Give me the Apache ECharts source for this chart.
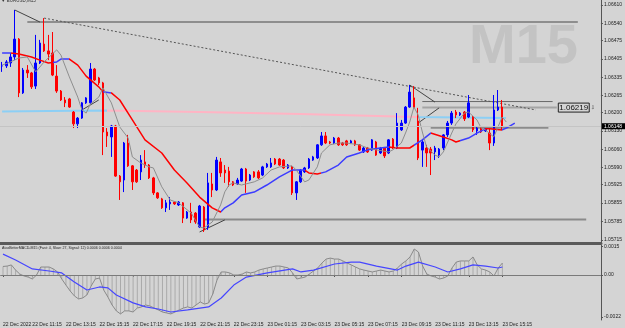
<!DOCTYPE html>
<html>
<head>
<meta charset="utf-8">
<title>EURUSD M15</title>
<script src="https://cdn.jsdelivr.net/npm/echarts/dist/echarts.min.js"></script>
<style>
  html, body { margin: 0; padding: 0; background: #d4d4d4; }
  #chart { width: 625px; height: 328px; }
</style>
</head>
<body>
<div id="chart"></div>
<script>
  // candles: [open, close, low, high]
  const candles = [
    [1.06378, 1.06378, 1.06355, 1.06393], [1.06378, 1.06393, 1.06370, 1.06400], [1.06389, 1.06412, 1.06374, 1.06427],
    [1.06412, 1.06480, 1.06400, 1.06591], [1.06480, 1.06275, 1.06259, 1.06484], [1.06275, 1.06362, 1.06271, 1.06370],
    [1.06362, 1.06351, 1.06332, 1.06381], [1.06351, 1.06298, 1.06290, 1.06355], [1.06301, 1.06389, 1.06290, 1.06496],
    [1.06389, 1.06465, 1.06385, 1.06477], [1.06461, 1.06435, 1.06431, 1.06560], [1.06435, 1.06423, 1.06400, 1.06496],
    [1.06427, 1.06343, 1.06339, 1.06507], [1.06339, 1.06282, 1.06275, 1.06381], [1.06282, 1.06248, 1.06244, 1.06286],
    [1.06248, 1.06237, 1.06221, 1.06259], [1.06252, 1.06221, 1.06218, 1.06256], [1.06202, 1.06157, 1.06141, 1.06206],
    [1.06157, 1.06179, 1.06141, 1.06183], [1.06179, 1.06237, 1.06176, 1.06240], [1.06237, 1.06256, 1.06233, 1.06259],
    [1.06237, 1.06366, 1.06233, 1.06389], [1.06366, 1.06324, 1.06320, 1.06370], [1.06332, 1.06313, 1.06305, 1.06336],
    [1.06313, 1.06126, 1.06038, 1.06317], [1.06126, 1.06111, 1.06069, 1.06141], [1.06107, 1.06149, 1.06031, 1.06153],
    [1.06149, 1.05958, 1.05955, 1.06153], [1.05958, 1.05936, 1.05867, 1.05962], [1.05943, 1.06084, 1.05897, 1.06088],
    [1.06084, 1.05997, 1.05993, 1.06115], [1.05997, 1.05936, 1.05905, 1.06000], [1.05981, 1.05936, 1.05932, 1.05985],
    [1.05974, 1.06019, 1.05943, 1.06038], [1.06012, 1.06000, 1.05989, 1.06057], [1.06000, 1.05951, 1.05947, 1.06004],
    [1.05951, 1.05894, 1.05886, 1.05955], [1.05894, 1.05875, 1.05871, 1.05897], [1.05871, 1.05837, 1.05833, 1.05875],
    [1.05837, 1.05856, 1.05821, 1.05867], [1.05852, 1.05859, 1.05829, 1.05878], [1.05859, 1.05852, 1.05848, 1.05863],
    [1.05848, 1.05859, 1.05844, 1.05863], [1.05856, 1.05798, 1.05779, 1.05859], [1.05798, 1.05821, 1.05795, 1.05825],
    [1.05821, 1.05791, 1.05779, 1.05856], [1.05817, 1.05783, 1.05776, 1.05821], [1.05764, 1.05844, 1.05760, 1.05848],
    [1.05840, 1.05753, 1.05745, 1.05844], [1.05764, 1.05932, 1.05753, 1.05970], [1.05928, 1.05905, 1.05878, 1.05970],
    [1.05905, 1.06019, 1.05901, 1.06031], [1.06012, 1.05970, 1.05955, 1.06027], [1.05981, 1.05970, 1.05932, 1.06000],
    [1.05977, 1.05936, 1.05917, 1.05993], [1.05936, 1.05924, 1.05920, 1.05939], [1.05928, 1.05943, 1.05924, 1.05951],
    [1.05939, 1.05985, 1.05936, 1.05989], [1.05985, 1.05939, 1.05894, 1.05989], [1.05943, 1.05962, 1.05939, 1.05966],
    [1.05974, 1.05955, 1.05951, 1.05977], [1.05974, 1.05951, 1.05947, 1.05981], [1.05962, 1.05993, 1.05958, 1.05997],
    [1.05993, 1.06004, 1.05989, 1.06008], [1.05993, 1.06008, 1.05989, 1.06027], [1.06023, 1.06004, 1.06000, 1.06027],
    [1.06023, 1.06000, 1.05997, 1.06027], [1.06019, 1.05989, 1.05985, 1.06023], [1.05989, 1.06000, 1.05985, 1.06004],
    [1.05993, 1.05894, 1.05886, 1.05997], [1.05894, 1.05936, 1.05867, 1.05939], [1.05936, 1.05981, 1.05932, 1.05985],
    [1.05974, 1.05989, 1.05970, 1.05993], [1.05989, 1.06023, 1.05985, 1.06027], [1.06019, 1.06031, 1.06016, 1.06035],
    [1.06027, 1.06077, 1.06023, 1.06080], [1.06077, 1.06111, 1.06073, 1.06126], [1.06111, 1.06084, 1.06080, 1.06126],
    [1.06088, 1.06084, 1.06080, 1.06092], [1.06084, 1.06103, 1.06080, 1.06107], [1.06103, 1.06077, 1.06073, 1.06107],
    [1.06084, 1.06077, 1.06073, 1.06088], [1.06092, 1.06077, 1.06073, 1.06096], [1.06084, 1.06092, 1.06080, 1.06096],
    [1.06092, 1.06077, 1.06073, 1.06096], [1.06077, 1.06057, 1.06054, 1.06080], [1.06050, 1.06065, 1.06046, 1.06069],
    [1.06065, 1.06050, 1.06046, 1.06069], [1.06057, 1.06096, 1.06054, 1.06099], [1.06088, 1.06038, 1.06035, 1.06092],
    [1.06046, 1.06065, 1.06042, 1.06069], [1.06065, 1.06035, 1.06027, 1.06069], [1.06046, 1.06096, 1.06042, 1.06099],
    [1.06099, 1.06065, 1.06061, 1.06103], [1.06065, 1.06160, 1.06061, 1.06198], [1.06134, 1.06160, 1.06130, 1.06172],
    [1.06160, 1.06221, 1.06157, 1.06225], [1.06221, 1.06278, 1.06218, 1.06305], [1.06256, 1.06218, 1.06214, 1.06301],
    [1.06168, 1.06027, 1.06019, 1.06218], [1.06057, 1.06088, 1.05993, 1.06096], [1.06065, 1.06046, 1.05993, 1.06077],
    [1.06061, 1.06046, 1.05962, 1.06069], [1.06050, 1.06065, 1.06019, 1.06073], [1.06038, 1.06061, 1.06027, 1.06065],
    [1.06065, 1.06115, 1.06057, 1.06118], [1.06115, 1.06160, 1.06107, 1.06168], [1.06160, 1.06198, 1.06153, 1.06206],
    [1.06202, 1.06191, 1.06179, 1.06210], [1.06191, 1.06198, 1.06187, 1.06202], [1.06202, 1.06176, 1.06168, 1.06206],
    [1.06183, 1.06237, 1.06179, 1.06267], [1.06183, 1.06134, 1.06126, 1.06187], [1.06130, 1.06141, 1.06115, 1.06145],
    [1.06141, 1.06126, 1.06122, 1.06145], [1.06130, 1.06138, 1.06126, 1.06141], [1.06122, 1.06084, 1.06057, 1.06141],
    [1.06084, 1.06210, 1.06073, 1.06267], [1.06210, 1.06221, 1.06206, 1.06286], [1.06221, 1.06148, 1.06134, 1.06248]
  ]

  // moving averages, [bar, price]
  const slowMa = [
    [0, 1.06427], [2, 1.06427], [4, 1.06423], [7, 1.06412], [9, 1.06400], [11, 1.06389], [13, 1.06393], [14, 1.06404],
    [16, 1.06404], [18, 1.06381], [20, 1.06339], [23, 1.06298], [24, 1.06279], [26, 1.06275], [28, 1.06248], [31, 1.06172],
    [34, 1.06096], [38, 1.06046], [41, 1.05981], [44, 1.05932], [47, 1.05878], [50, 1.05837], [52, 1.05821], [53, 1.05837],
    [55, 1.05856], [57, 1.05886], [60, 1.05897], [63, 1.05924], [66, 1.05955], [69, 1.05981], [72, 1.05981], [73, 1.05970],
    [75, 1.05966], [77, 1.05974], [80, 1.06000], [82, 1.06031], [85, 1.06046], [87, 1.06058], [90, 1.06065], [92, 1.06069],
    [94, 1.06065], [97, 1.06065], [100, 1.06096], [102, 1.06122], [105, 1.06107], [107, 1.06096], [108, 1.06088],
    [111, 1.06103], [113, 1.06122], [115, 1.06138], [116, 1.06138], [119, 1.06134], [120, 1.06141], [122, 1.06160]
  ]
  const slowMaRising = [[0, 2], [12, 16], [24, 26], [52, 72], [76, 92], [98, 102], [109, 115], [119, 122]]

  const longMa = [[0, 1.06204], [11, 1.06206], [25, 1.06208], [47, 1.06202], [71, 1.06195], [94, 1.06185], [99, 1.06183], [109, 1.06181], [120, 1.06179]]
  const longMaRising = [[0, 25], [99, 120]]

  const fastMa = [
    [0, 1.06381], [2, 1.06393], [4, 1.06408], [6, 1.06412], [8, 1.06355], [10, 1.06393], [13, 1.06439], [14, 1.06419],
    [16, 1.06336], [18, 1.06259], [19, 1.06210], [20, 1.06198], [21, 1.06233], [23, 1.06259], [24, 1.06294], [26, 1.06237],
    [28, 1.06145], [30, 1.06103], [31, 1.06031], [33, 1.06008], [35, 1.05993], [36, 1.05989], [38, 1.05917], [40, 1.05867],
    [42, 1.05856], [45, 1.05817], [47, 1.05764], [48, 1.05760], [50, 1.05783], [52, 1.05848], [53, 1.05898], [54, 1.05924],
    [55, 1.05932], [57, 1.05924], [60, 1.05936], [62, 1.05951], [64, 1.05981], [66, 1.05993], [69, 1.05997], [70, 1.05981],
    [72, 1.05936], [73, 1.05943], [75, 1.05993], [76, 1.06046], [78, 1.06077], [80, 1.06084], [82, 1.06084], [85, 1.06077],
    [87, 1.06065], [89, 1.06058], [92, 1.06050], [93, 1.06058], [95, 1.06084], [96, 1.06122], [97, 1.06164], [98, 1.06221],
    [99, 1.06191], [100, 1.06126], [101, 1.06069], [103, 1.06038], [104, 1.06031], [105, 1.06050], [107, 1.06122],
    [108, 1.06157], [110, 1.06198], [111, 1.06202], [113, 1.06172], [114, 1.06141], [115, 1.06134], [117, 1.06107],
    [118, 1.06145], [119, 1.06183], [120, 1.06164]
  ]

  // chart objects drawn by hand on the terminal, [bar, price]
  const levelTop = [[6, 1.06545], [137, 1.06545]]
  const levelBottom = [[48, 1.05793], [139, 1.05793]]
  const levelHigh = [[100, 1.06242], [131, 1.06242]]
  const levelMarked = [[100, 1.06219], [132, 1.06219]]
  const levelLow = [[102, 1.06143], [130, 1.06143]]
  const trendDotted = [[10, 1.06560], [127, 1.06210]]
  const zigzags = [
    [[3, 1.06591], [9, 1.06545]],
    [[19, 1.06210], [23, 1.06248]],
    [[47, 1.05745], [53, 1.05791]],
    [[97, 1.06305], [103, 1.06240]],
    [[99, 1.06160], [104, 1.06218]]
  ]
  const bidPrice = 1.06148

  // MACD window
  const macdValues = [
    0.00045, 0.00047, 0.00053, 0.00026, 0.00005, -0.00005, -0.00011, -0.00021, 0, 0.00042,
    0.00042, 0.00042, 0.00032, 0.00016, -0.00021, -0.00053, -0.00084, -0.00110, -0.00126, -0.00121,
    -0.00105, -0.00058, -0.00021, -0.00016, -0.00079, -0.00116, -0.00158, -0.00189, -0.00205, -0.00189,
    -0.00189, -0.00195, -0.00174, -0.00168, -0.00158, -0.00163, -0.00174, -0.00184, -0.00195, -0.00200,
    -0.00205, -0.00195, -0.00184, -0.00174, -0.00168, -0.00174, -0.00158, -0.00142, -0.00153, -0.00147,
    -0.00100, -0.00026, 0.00016, 0.00016, 0.00011, 0, 0, 0.00005, 0.00016, 0.00011,
    0.00016, 0.00026, 0.00032, 0.00037, 0.00042, 0.00047, 0.00047, 0.00042, 0.00037, 0.00011,
    -0.00021, -0.00016, -0.00011, 0.00005, 0.00021, 0.00037, 0.00063, 0.00084, 0.00089, 0.00084,
    0.00084, 0.00074, 0.00063, 0.00053, 0.00042, 0.00032, 0.00026, 0.00021, 0.00016, 0.00021,
    0.00026, 0.00021, 0.00016, 0.00021, 0.00037, 0.00058, 0.00074, 0.00095, 0.00137, 0.00121,
    0.00047, 0.00005, -0.00005, -0.00011, -0.00021, -0.00016, -0.00005, 0.00037, 0.00068, 0.00074,
    0.00074, 0.00074, 0.00095, 0.00053, 0.00032, 0.00026, 0.00016, -0.00005, 0.00037, 0.00063
  ]
  const macdSignal = [
    [0, 0.00110], [3, 0.00079], [7, 0.00032], [11, 0.00021], [14, 0.00011], [17, -0.00037], [20, -0.00079], [23, -0.00063],
    [25, -0.00068], [27, -0.00105], [31, -0.00147], [34, -0.00168], [37, -0.00179], [40, -0.00195], [44, -0.00184],
    [49, -0.00168], [52, -0.00121], [55, -0.00053], [58, -0.00011], [63, 0.00011], [69, 0.00032], [71, 0.00016],
    [74, 0.00026], [79, 0.00058], [83, 0.00068], [85, 0.00068], [89, 0.00047], [94, 0.00026], [96, 0.00047],
    [99, 0.00068], [103, 0.00042], [106, 0.00016], [109, 0.00032], [112, 0.00053], [115, 0.00047], [118, 0.00037], [119, 0.00042]
  ]

  const priceTicks = [1.06610, 1.06540, 1.06475, 1.06405, 1.06335, 1.06265, 1.06200, 1.06130, 1.06060, 1.05990, 1.05925, 1.05855, 1.05785, 1.05715]
  const macdTicks = [0.0015, 0, -0.0022]
  const timeLabelBars = [0, 7, 15, 23, 31, 39, 47, 55, 63, 71, 79, 87, 95, 103, 111, 119]
  const timeLabels = ['22 Dec 2022', '22 Dec 11:15', '22 Dec 13:15', '22 Dec 15:15', '22 Dec 17:15', '22 Dec 19:15',
    '22 Dec 21:15', '22 Dec 23:15', '23 Dec 01:15', '23 Dec 03:15', '23 Dec 05:15', '23 Dec 07:15',
    '23 Dec 09:15', '23 Dec 11:15', '23 Dec 13:15', '23 Dec 15:15']

  const FONT = '"Liberation Sans", Arial, sans-serif'
  const SLOTS = 143 // bars plus empty shift on the right

  // bar times, 15 minutes apart
  const categories = []
  const t0 = Date.UTC(2022, 11, 22, 9, 30)
  for (let i = 0; i < SLOTS; i++) {
    const d = new Date(t0 + i * 15 * 60000)
    categories.push(d.getUTCDate() + ' Dec ' + String(d.getUTCHours()).padStart(2, '0') + ':' + String(d.getUTCMinutes()).padStart(2, '0'))
  }
  const showTime = (i) => timeLabelBars.indexOf(i) !== -1

  function objectLine(data, color, width, type) {
    return {
      type: 'line', xAxisIndex: 0, yAxisIndex: 0, data: data, symbol: 'none', silent: true, z: 1,
      lineStyle: { color: color, width: width, type: type || 'solid' }
    }
  }

  const markedLine = objectLine(levelMarked, '#a4a4a4', 2)
  // price box at the right end of the marked level
  markedLine.markPoint = {
    silent: true, animation: false, symbol: 'rect', symbolSize: 1,
    itemStyle: { color: 'transparent' },
    data: [{
      coord: levelMarked[1],
      label: {
        show: true, position: 'right', distance: 1, opacity: 1,
        formatter: '{b|' + levelMarked[1][1].toFixed(5) + '}{a| ⇩}',
        rich: {
          b: { fontSize: 8, color: '#111', borderColor: '#222', borderWidth: 1, padding: [1, 1, 0, 1] },
          a: { fontSize: 5, color: '#444', fontFamily: 'DejaVu Sans' }
        }
      }
    }]
  }

  const chart = echarts.init(document.getElementById('chart'))
  chart.setOption({
    animation: false,
    backgroundColor: '#d4d4d4',
    textStyle: { fontFamily: FONT },
    grid: [
      { left: 0, right: 24, top: 0, height: 243 },
      { left: 0, right: 24, top: 245, height: 75 }
    ],
    xAxis: [
      {
        type: 'category', gridIndex: 0, data: categories, boundaryGap: true,
        axisLine: { show: true, lineStyle: { color: '#5a5a5a', width: 3 } },
        axisTick: { show: false }, axisLabel: { show: false }, splitLine: { show: false }
      },
      {
        type: 'category', gridIndex: 1, data: categories, boundaryGap: true,
        axisLine: { show: true, lineStyle: { color: '#555', width: 1 } },
        axisTick: { show: true, interval: showTime, alignWithLabel: true, length: 2, lineStyle: { color: '#555' } },
        axisLabel: {
          interval: showTime,
          formatter: (v, i) => timeLabels[timeLabelBars.indexOf(i)],
          align: 'left', fontSize: 5, color: '#222', margin: 2
        },
        splitLine: { show: false }
      }
    ],
    yAxis: [
      {
        type: 'value', gridIndex: 0, position: 'right', min: 1.05703, max: 1.06629,
        splitLine: { show: false },
        axisLine: { show: true, lineStyle: { color: '#555' } },
        axisTick: { show: true, customValues: priceTicks, length: 2, lineStyle: { color: '#555' } },
        axisLabel: { customValues: priceTicks, formatter: (v) => v.toFixed(5), fontSize: 5, color: '#222', margin: 3 }
      },
      {
        type: 'value', gridIndex: 1, position: 'right', min: -0.00237, max: 0.00158,
        splitLine: { show: false },
        axisLine: { show: true, lineStyle: { color: '#555' } },
        axisTick: { show: true, customValues: macdTicks, length: 2, lineStyle: { color: '#555' } },
        axisLabel: {
          customValues: macdTicks,
          formatter: (v) => (v === 0 ? '0.00' : v.toFixed(4)),
          fontSize: 5, color: '#222', margin: 3
        }
      }
    ],
    visualMap: [
      {
        show: false, type: 'piecewise', seriesIndex: 1, dimension: 0,
        pieces: slowMaRising.map(r => ({ gte: r[0], lte: r[1], color: '#3c3cff' })),
        outOfRange: { color: '#ff0000' }
      },
      {
        show: false, type: 'piecewise', seriesIndex: 2, dimension: 0,
        pieces: longMaRising.map(r => ({ gte: r[0], lte: r[1], color: '#8ccff5' })),
        outOfRange: { color: '#ffb4c4' }
      }
    ],
    graphic: [
      { type: 'text', left: 469, top: 20, z: 0, style: { text: 'M15', font: 'bold 56px "Liberation Sans", Arial', fill: '#c3c3c3' } },
      { type: 'text', left: 1, top: -2, style: { text: '▼ EURUSD,M15', font: '4.5px "Liberation Sans", Arial', fill: '#333' } },
      { type: 'text', left: 2, top: 246, style: { text: 'AtasBetterMACD-M15 (Fast: 4, Slow: 27, Signal: 12) 0.0006 0.0006 0.0004', font: '3.6px "Liberation Sans", Arial', fill: '#222' } }
    ],
    series: [
      {
        name: 'EURUSD', type: 'candlestick', xAxisIndex: 0, yAxisIndex: 0, data: candles, z: 3,
        barWidth: 2,
        itemStyle: { color: '#0000ff', color0: '#ff0000', borderColor: '#0000ff', borderColor0: '#ff0000', borderWidth: 1 }
      },
      { name: 'slow ma', type: 'line', xAxisIndex: 0, yAxisIndex: 0, data: slowMa, symbol: 'none', z: 4, lineStyle: { width: 1.5 } },
      { name: 'long ma', type: 'line', xAxisIndex: 0, yAxisIndex: 0, data: longMa, symbol: 'none', z: 2, lineStyle: { width: 2 } },
      {
        name: 'fast ma', type: 'line', xAxisIndex: 0, yAxisIndex: 0, data: fastMa, symbol: 'none', z: 4,
        lineStyle: { color: '#8e8e8e', width: 1 },
        // bid line with its price tag on the axis
        markLine: {
          silent: true, symbol: 'none', animation: false, precision: 5,
          data: [{ yAxis: bidPrice }],
          lineStyle: { color: '#c4c4c4', width: 1, type: 'solid' },
          label: {
            position: 'end', distance: 1, formatter: bidPrice.toFixed(5),
            backgroundColor: '#000', color: '#fff', fontSize: 5, padding: [1, 3, 0, 2]
          }
        }
      },
      objectLine(levelTop, '#777', 1.5),
      objectLine(levelBottom, '#8a8a8a', 2),
      objectLine(levelHigh, '#686868', 1),
      markedLine,
      objectLine(levelLow, '#8c8c8c', 2.5),
      objectLine(trendDotted, '#555', 1, [2, 2]),
      ...zigzags.map(z => objectLine(z, '#444', 1)),
      {
        name: 'macd hist', type: 'bar', xAxisIndex: 1, yAxisIndex: 1, data: macdValues, barWidth: 1,
        itemStyle: { color: '#aaaaaa' }, silent: true,
        markLine: {
          silent: true, symbol: 'none', data: [{ yAxis: 0 }],
          lineStyle: { color: '#7a7a7a', width: 1, type: 'solid' }, label: { show: false }
        }
      },
      { name: 'macd', type: 'line', xAxisIndex: 1, yAxisIndex: 1, data: macdValues, symbol: 'none', lineStyle: { color: '#8a8a8a', width: 1 } },
      { name: 'signal', type: 'line', xAxisIndex: 1, yAxisIndex: 1, data: macdSignal, symbol: 'none', lineStyle: { color: '#4646ff', width: 1.2 } }
    ]
  })
</script>
</body>
</html>
